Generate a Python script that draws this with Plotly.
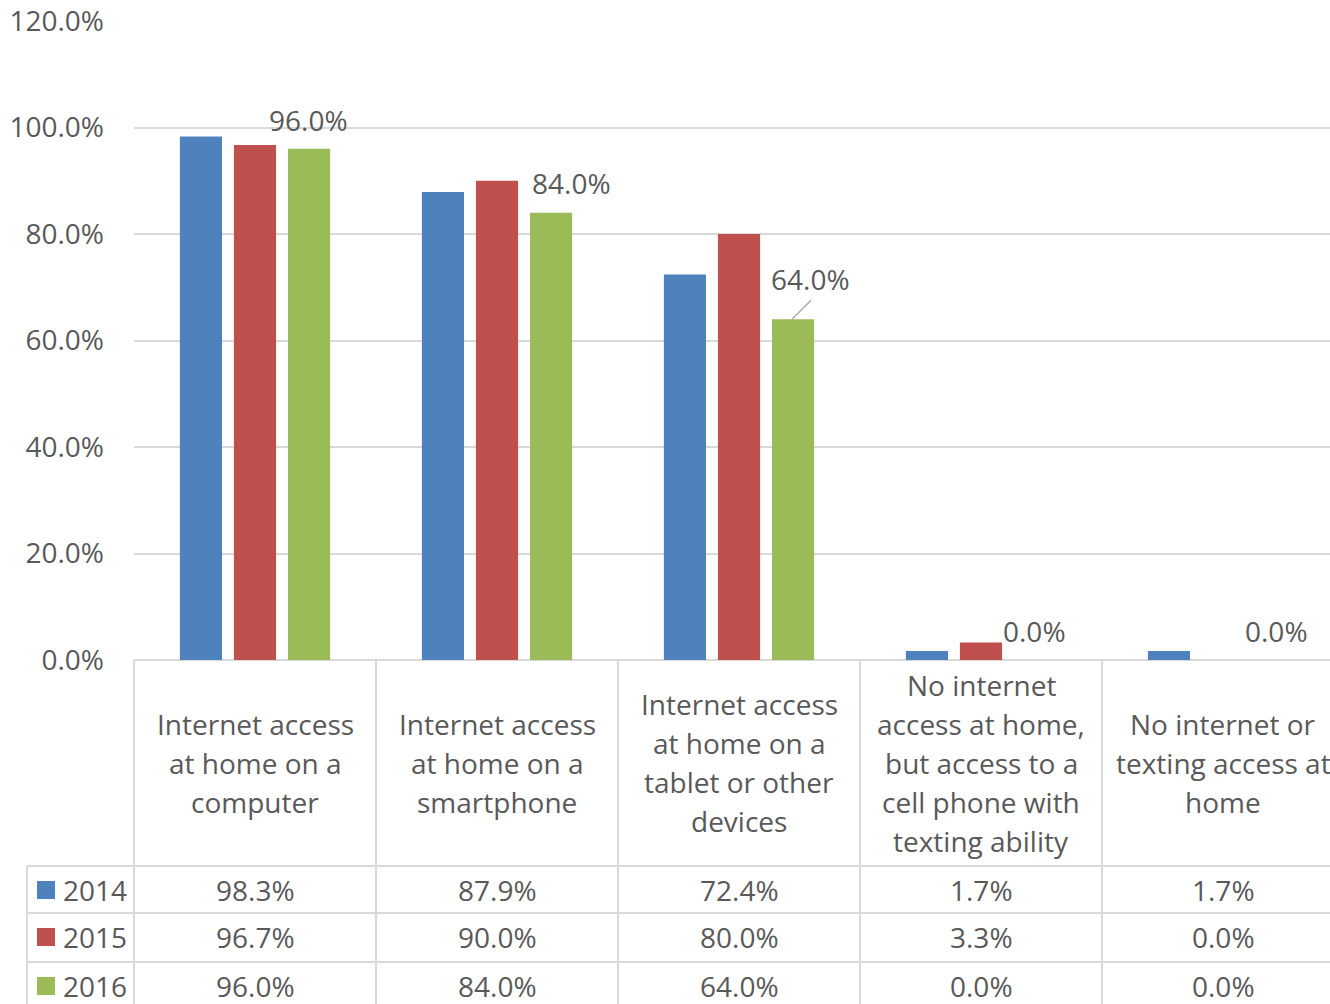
import plotly.graph_objects as go

# ---------------- data ----------------
categories = [
    "Internet access<br>at home on a<br>computer",
    "Internet access<br>at home on a<br>smartphone",
    "Internet access<br>at home on a<br>tablet or other<br>devices",
    "No internet<br>access at home,<br>but access to a<br>cell phone with<br>texting ability",
    "No internet or<br>texting access at<br>home",
]
years = ["2014", "2015", "2016"]
v2014 = [98.3, 87.9, 72.4, 1.7, 1.7]
v2015 = [96.7, 90.0, 80.0, 3.3, 0.0]
v2016 = [96.0, 84.0, 64.0, 0.0, 0.0]
y_ticks = [0, 20, 40, 60, 80, 100, 120]

series = [v2014, v2015, v2016]

# ---------------- styles / layout ----------------
colors = ["#4F81BD", "#C0504D", "#9BBB59"]
TEXT = "#595959"
GRID = "#D9D9D9"
FONT = "Open Sans"
FS = 28

W, H = 1330, 1004
PL, PR, PT, PB = 134, 1330, 21, 660
CAT_W = 242
PW = PR - PL
PH = PB - PT
HEADER_CENTER = 762.5
LINE_H = 39
ROW_TOPS = [866, 913, 962]
ROW_H = 48
TABLE_LEFT = 27

# label offsets (pixels) for 2016 data labels
label_dx = [53, 74, 71, 53, 53]
label_dy = [29, 30, 40, 29, 29]


def px(xp):
    return (xp - PL) / PW


def py(yp):
    return (PB - yp) / PH


fig = go.Figure()
for name, vals, col in zip(years, series, colors):
    fig.add_trace(go.Bar(x=categories, y=vals, name=name, marker=dict(color=col, line=dict(width=0))))

annotations = []
shapes = []

# data labels on 2016 series
for i, (cat, v) in enumerate(zip(categories, v2016)):
    annotations.append(dict(
        x=cat, y=v, xref="x", yref="y", text=f"{v:.1f}%", showarrow=False,
        xshift=label_dx[i], yshift=label_dy[i], xanchor="center", yanchor="middle",
        font=dict(family=FONT, size=FS, color=TEXT)))

# leader line for the 64% label
shapes.append(dict(type="line", xref="x", yref="y", xsizemode="pixel", ysizemode="pixel",
                   xanchor=2, yanchor=v2016[2], x0=53, x1=72, y0=0, y1=19,
                   line=dict(color="#A6A6A6", width=1.5)))

# header (category labels)
for cat in categories:
    lines = cat.split("<br>")
    n = len(lines)
    for j, ln in enumerate(lines):
        yp = HEADER_CENTER + (j - (n - 1) / 2) * LINE_H
        annotations.append(dict(
            x=cat, xref="x", y=py(yp), yref="paper", text=ln, showarrow=False,
            xanchor="center", yanchor="middle",
            font=dict(family=FONT, size=FS, color=TEXT)))

# table rows
for r, (name, vals, col) in enumerate(zip(years, series, colors)):
    cy = ROW_TOPS[r] + ROW_H / 2
    shapes.append(dict(type="rect", xref="paper", yref="paper",
                       x0=px(37), x1=px(55), y0=py(cy - 9), y1=py(cy + 9),
                       fillcolor=col, line=dict(width=0)))
    annotations.append(dict(x=px(61), xref="paper", y=py(cy), yref="paper", text=name,
                            showarrow=False, xanchor="left", yanchor="middle",
                            font=dict(family=FONT, size=FS, color=TEXT)))
    for cat, v in zip(categories, vals):
        annotations.append(dict(x=cat, xref="x", y=py(cy), yref="paper", text=f"{v:.1f}%",
                                showarrow=False, xanchor="center", yanchor="middle",
                                font=dict(family=FONT, size=FS, color=TEXT)))

# table grid lines
for yt in ROW_TOPS:
    shapes.append(dict(type="line", xref="paper", yref="paper", x0=px(TABLE_LEFT), x1=1,
                       y0=py(yt), y1=py(yt), line=dict(color=GRID, width=2)))
shapes.append(dict(type="line", xref="paper", yref="paper", x0=px(TABLE_LEFT), x1=px(TABLE_LEFT),
                   y0=py(ROW_TOPS[0]), y1=py(H + 10), line=dict(color=GRID, width=2)))
for k in range(len(categories)):
    xb = PL + k * CAT_W
    shapes.append(dict(type="line", xref="paper", yref="paper", x0=px(xb), x1=px(xb),
                       y0=0, y1=py(H + 10), line=dict(color=GRID, width=2)))

xmax = -0.5 + PW / CAT_W

fig.update_layout(
    width=W, height=H,
    margin=dict(l=PL, r=W - PR, t=PT, b=H - PB, pad=0),
    paper_bgcolor="white", plot_bgcolor="white",
    barmode="group", bargap=0.33, bargroupgap=0.22,
    showlegend=False,
    font=dict(family=FONT, size=FS, color=TEXT),
    xaxis=dict(type="category", range=[-0.5, xmax], showticklabels=False, showgrid=False,
               zeroline=False, showline=False, ticks="", fixedrange=True),
    yaxis=dict(range=[0, 120], tickvals=y_ticks, ticktext=[f"{t:.1f}%" for t in y_ticks],
               showgrid=True, gridcolor=GRID, gridwidth=2, zeroline=True, zerolinecolor=GRID,
               zerolinewidth=2, showline=False, ticks="", ticklabelstandoff=29,
               tickfont=dict(family=FONT, size=FS, color=TEXT), fixedrange=True),
    annotations=annotations,
    shapes=shapes,
)

fig.write_html("out.html", config={"displayModeBar": False},
               post_script="document.body.style.margin='0px';document.body.style.overflow='hidden';")
